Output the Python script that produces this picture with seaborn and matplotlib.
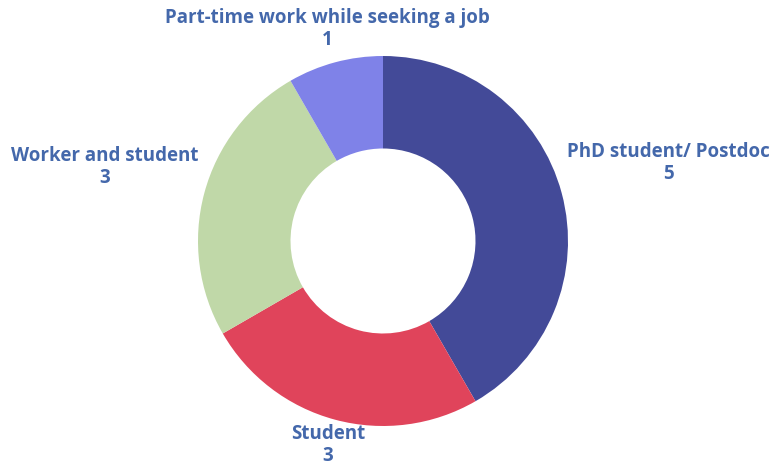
import matplotlib
matplotlib.use("Agg")
import matplotlib.pyplot as plt
import seaborn as sns

# Survey responses by occupation
categories = ["PhD student/ Postdoc", "Student", "Worker and student", "Part-time work while seeking a job"]
counts = [5, 3, 3, 1]
colors = ["#434a98", "#e0445b", "#c0d8a8", "#7f82e8"]

sns.set_theme(style="white")
plt.rcParams["font.family"] = ["Open Sans", "DejaVu Sans"]

W, H = 776, 465
fig = plt.figure(figsize=(W / 100, H / 100), dpi=100)
cx, cy, R = 383, 241, 185
ax = fig.add_axes([(cx - R) / W, (H - cy - R) / H, 2 * R / W, 2 * R / H])

ax.pie(counts, colors=colors, startangle=90, counterclock=False,
       radius=1.0, wedgeprops=dict(width=0.5, edgecolor="none"))
ax.set_xlim(-1, 1)
ax.set_ylim(-1, 1)
ax.set_aspect("equal")
ax.axis("off")

# label centres in pixel space, converted to data units
label_px = {
    "PhD student/ Postdoc": (668, 163),
    "Student": (328, 445),
    "Worker and student": (105, 167),
    "Part-time work while seeking a job": (327, 29),
}
for name, n in zip(categories, counts):
    px, py = label_px[name]
    ax.text((px - cx) / R, (cy - py) / R, f"{name}\n{n}", ha="center", va="center",
            multialignment="center", fontsize=13.5, fontweight="bold", color="#4468ab",
            linespacing=1.1, clip_on=False)

fig.savefig("out.png", dpi=100, facecolor="white")
